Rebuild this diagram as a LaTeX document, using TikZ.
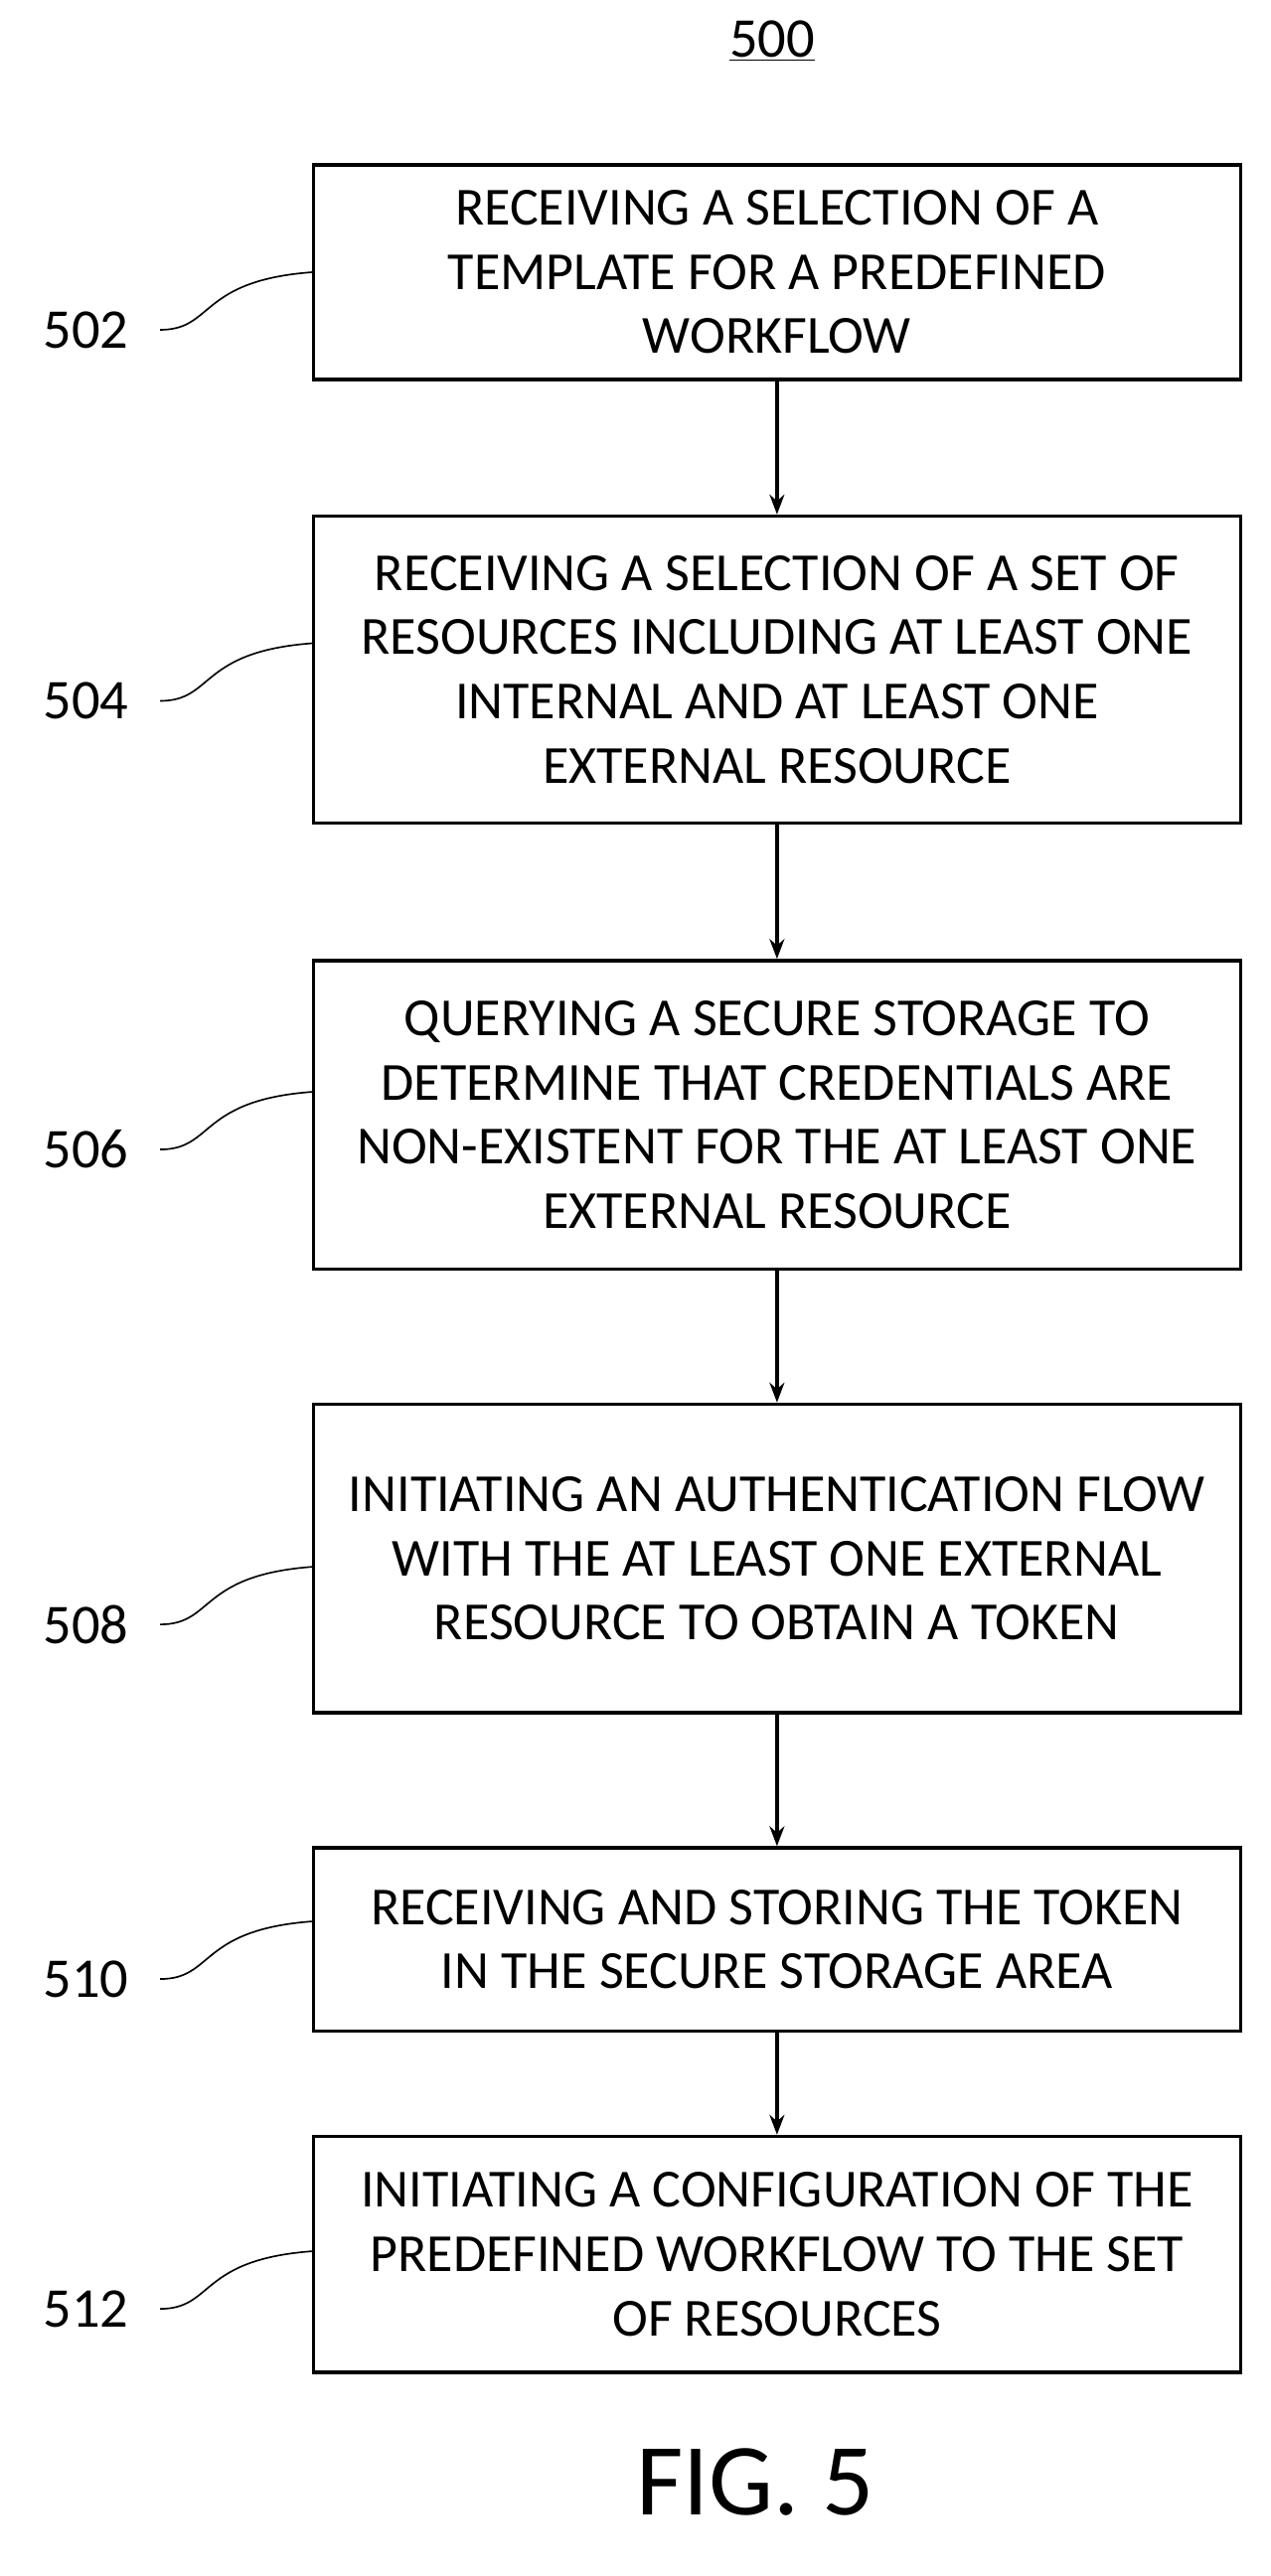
\documentclass[tikz,border=0pt]{standalone}
\usepackage{fontspec}
\setmainfont{Carlito}
\usetikzlibrary{arrows.meta}
\begin{document}
\begin{tikzpicture}[x=1pt,y=-1pt,
 box/.style={draw,line width=2.2pt,align=center,font=\fontsize{32.5}{39}\selectfont,inner sep=0pt},
 lab/.style={font=\fontsize{34}{38}\selectfont},
 arr/.style={-{Stealth[length=12pt,width=9pt]},line width=2pt},
 sq/.style={line width=1pt}]
\useasboundingbox (0,0) rectangle (770,1562);
\def\mk#1#2#3#4#5{%
 \node[box,minimum width=562pt,minimum height=#3pt] (b#1) at (471,#2) {#4};
 \node[lab] (l#1) at (52,#5) {#1};
 \draw[sq] (97,#5) .. controls (130,#5) and (120,#5-30) .. (190,#5-35);}
\mk{502}{165}{130}{RECEIVING A SELECTION OF A\\TEMPLATE FOR A PREDEFINED\\WORKFLOW}{200}
\mk{504}{406}{186}{RECEIVING A SELECTION OF A SET OF\\RESOURCES INCLUDING AT LEAST ONE\\INTERNAL AND AT LEAST ONE\\EXTERNAL RESOURCE}{425}
\mk{506}{676}{187}{QUERYING A SECURE STORAGE TO\\DETERMINE THAT CREDENTIALS ARE\\NON-EXISTENT FOR THE AT LEAST ONE\\EXTERNAL RESOURCE}{697}
\mk{508}{945}{187}{INITIATING AN AUTHENTICATION FLOW\\WITH THE AT LEAST ONE EXTERNAL\\RESOURCE TO OBTAIN A TOKEN}{985}
\mk{510}{1176}{111}{RECEIVING AND STORING THE TOKEN\\IN THE SECURE STORAGE AREA}{1200}
\mk{512}{1367}{143}{INITIATING A CONFIGURATION OF THE\\PREDEFINED WORKFLOW TO THE SET\\OF RESOURCES}{1400}
\draw[arr] (b502) -- (b504);
\draw[arr] (b504) -- (b506);
\draw[arr] (b506) -- (b508);
\draw[arr] (b508) -- (b510);
\draw[arr] (b510) -- (b512);
\node[lab] (t) at (468,25) {\underline{500}};
\node[font=\fontsize{62}{68}\selectfont] (f) at (458,1505) {FIG. 5};
\end{tikzpicture}
\end{document}
